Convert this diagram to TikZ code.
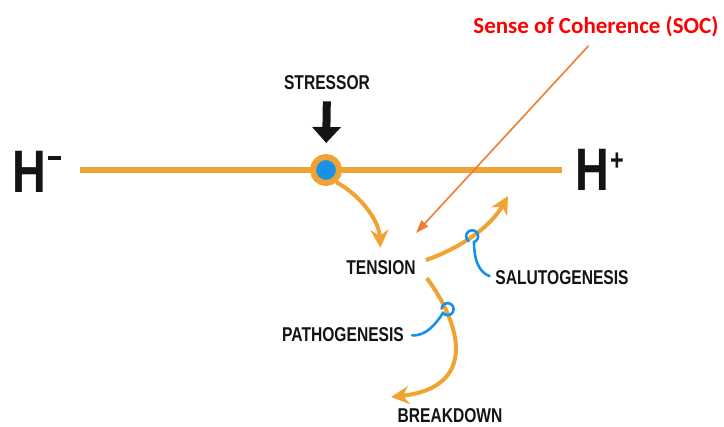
\documentclass[tikz,border=0pt]{standalone}
\usepackage{fontspec}
\setmainfont{Liberation Sans}
\newfontfamily\condfont[FakeStretch=0.78]{Liberation Sans}
\newfontfamily\socfont{Carlito}
\usetikzlibrary{arrows.meta}

\definecolor{hline}{RGB}{240,162,50}
\definecolor{dotblue}{RGB}{24,146,232}
\definecolor{socorange}{RGB}{237,125,49}
\definecolor{socred}{RGB}{255,0,0}
\definecolor{ink}{RGB}{20,20,20}

\begin{document}
\begin{tikzpicture}[x=1pt, y=-1pt]
    % Define styles
    \tikzstyle{term} = [inner sep=0pt, text=ink,
        font=\condfont\bfseries\fontsize{20}{22}\selectfont]
    \tikzstyle{bigh} = [inner sep=0pt, text=ink,
        font=\condfont\bfseries\fontsize{60}{60}\selectfont]
    \tikzstyle{flow} = [draw=hline, line width=4pt,
        -{Stealth[length=18pt, width=18pt, inset=6pt]}]
    \tikzstyle{hook} = [draw=dotblue, line width=2.6pt, line cap=round]
    \tikzstyle{soc} = [draw=socorange, line width=1.6pt,
        -{Triangle[length=13pt, width=9pt]}]

    \useasboundingbox (0,0) rectangle (724,427);

    % Health axis
    \node [bigh, anchor=base west] (hminus) at (12,193)
        {H\hspace{2pt}\raisebox{33pt}{\rule{13pt}{4pt}}};
    \node [bigh, anchor=base west] (hplus) at (575,191)
        {H\hspace{1pt}\raisebox{20pt}{\fontsize{30}{30}\selectfont +}};
    \coordinate (axisL) at (80,170);
    \coordinate (axisR) at (562,170);
    \draw [hline, line width=6pt] (axisL) -- (axisR);
    \node [circle, draw=hline, line width=6pt, fill=dotblue,
        minimum size=26pt, inner sep=0pt] (dot) at (326,170) {};

    % Stressor
    \node [term, anchor=base] (stressor) at (327,90) {STRESSOR};
    \draw [ink, line width=8pt, -{Triangle[length=16pt, width=28pt]},
        shorten <=11pt, shorten >=11pt]
        (stressor.south) -- (dot.north);

    % Labels
    \node [term, anchor=base] (tension) at (381,275) {TENSION};
    \node [term, anchor=base] (saluto) at (562,285) {SALUTOGENESIS};
    \node [term, anchor=base] (patho) at (343,342) {PATHOGENESIS};
    \node [term, anchor=base] (breakdown) at (450,423) {BREAKDOWN};
    \coordinate (salutoTip) at (508,196);
    \coordinate (pathoTip) at (391,397);

    % Flow paths
    \path [flow, shorten >=13pt] (dot.-50)
        .. controls (360,195) and (379,220) .. (tension.north);
    \path [flow] ([xshift=10pt, yshift=8pt]tension.east)
        .. controls (458,249) and (490,228) .. (salutoTip);
    \path [flow] ([xshift=11pt, yshift=-10pt]tension.east)
        .. controls (465,330) and (474,388) .. (pathoTip);

    % Blue hooks
    \draw [hook, shorten <=6pt] (saluto.west)
        .. controls (478,272) and (474,258) .. (474,242)
        arc [start angle=-72, end angle=235, radius=6pt];
    \draw [hook, shorten <=8pt] (patho.east)
        .. controls (426,336) and (435,325) .. (443,313)
        arc [start angle=-140, end angle=175, radius=6pt];

    % Sense of coherence
    \node [inner sep=0pt, text=socred, anchor=base,
        font=\socfont\bfseries\fontsize{23}{25}\selectfont] (socText) at (596,34)
        {Sense of Coherence (SOC)};
    \coordinate (socTip) at (416,233);
    \draw [soc, shorten <=11pt] (socText.south) -- (socTip);
\end{tikzpicture}
\end{document}
